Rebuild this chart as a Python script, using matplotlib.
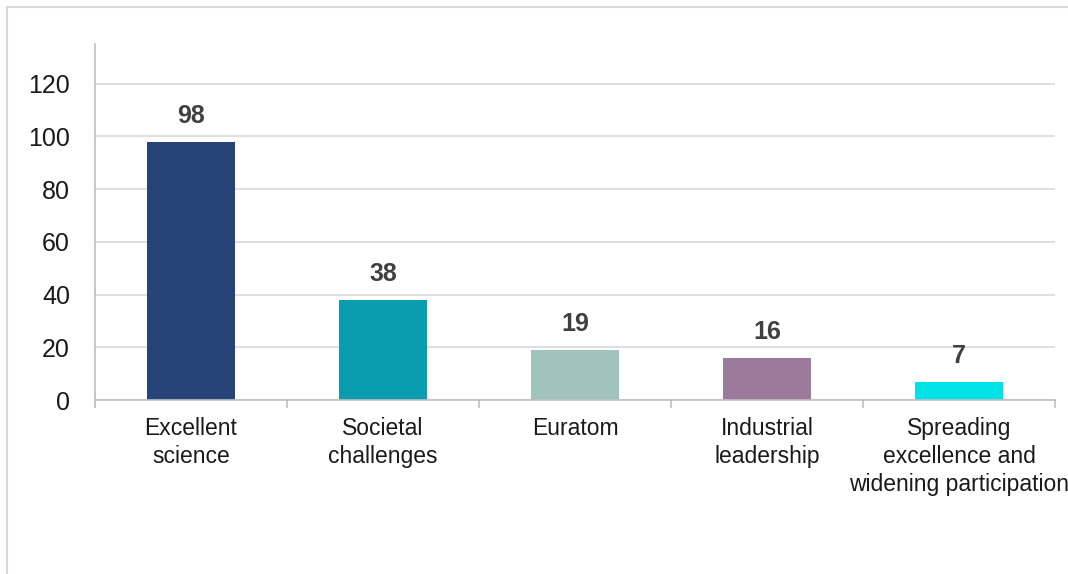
import matplotlib.pyplot as plt
import numpy as np

plt.rcParams['font.family'] = ['Liberation Sans', 'DejaVu Sans']

categories = ["Excellent\nscience", "Societal\nchallenges", "Euratom",
              "Industrial\nleadership",
              "Spreading\nexcellence and\nwidening participation"]
values = [98, 38, 19, 16, 7]
colors = ["#264478", "#0a9db0", "#a0c4bd", "#9b7a9c", "#00e2e6"]
y_ticks = [0, 20, 40, 60, 80, 100, 120]

fig = plt.figure(figsize=(10.68, 5.74), dpi=100)
ax = fig.add_axes([0.089, 0.3031, 0.8989, 0.6202])

x = np.arange(len(values))
bars = ax.bar(x, values, width=0.46, color=colors, zorder=3)

for xi, v in zip(x, values):
    ax.annotate(str(v), (xi, v), xytext=(0, 10), textcoords="offset points",
                ha="center", va="bottom", fontsize=18, fontweight="bold",
                color="#404040")

ax.set_xlim(-0.5, len(values) - 0.5)
ax.set_ylim(0, 135)
ax.set_yticks(y_ticks)
ax.tick_params(axis="y", length=0, pad=18, labelsize=18, labelcolor="#1a1a1a")
ax.set_xticks(x)
ax.set_xticklabels(categories, fontsize=16.5, color="#1a1a1a", linespacing=1.3)
ax.tick_params(axis="x", which="major", length=0, pad=12)
ax.set_xticks(np.arange(len(values) + 1) - 0.5, minor=True)
ax.tick_params(axis="x", which="minor", length=6, color="#bfbfbf", width=1.2)

ax.grid(axis="y", color="#d9d9d9", linewidth=1.2, zorder=0)
for side in ["top", "right"]:
    ax.spines[side].set_visible(False)
for side in ["left", "bottom"]:
    ax.spines[side].set_color("#bfbfbf")
    ax.spines[side].set_linewidth(1.2)
ax.spines["bottom"].set_zorder(4)

# thin frame around the chart area
fig.add_artist(plt.Line2D([0.0065, 1.0], [0.988, 0.988], color="#d9d9d9",
                          linewidth=1.5, transform=fig.transFigure))
fig.add_artist(plt.Line2D([0.0065, 0.0065], [0.0, 0.988], color="#d9d9d9",
                          linewidth=1.5, transform=fig.transFigure))

fig.savefig("out.png", dpi=100)
